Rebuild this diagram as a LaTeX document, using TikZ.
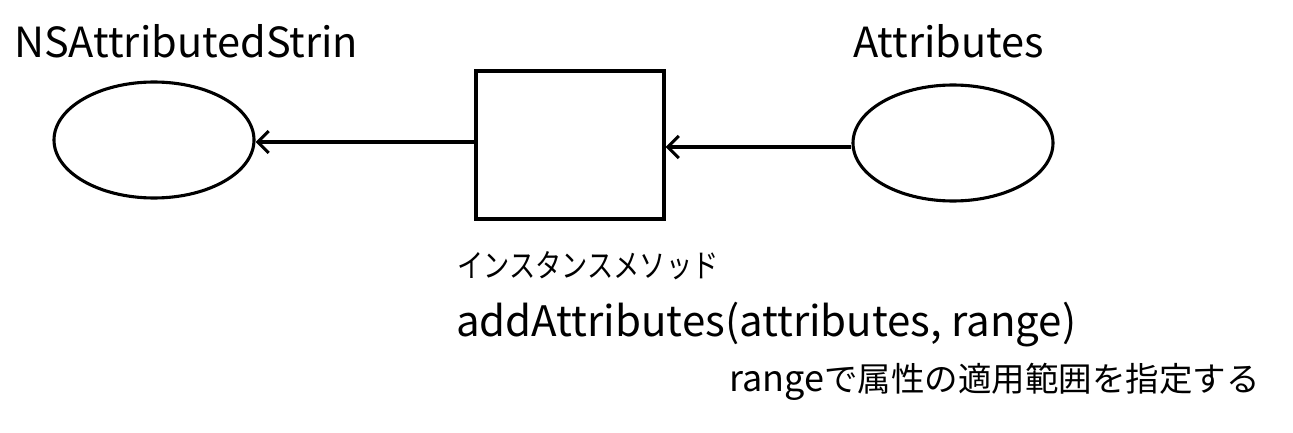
\documentclass[tikz,border=0pt]{standalone}
\usepackage{fontspec}
\setmainfont{Noto Sans CJK JP}
\usetikzlibrary{arrows.meta,shapes.geometric}
\begin{document}
\begin{tikzpicture}[x=1pt,y=-1pt,
  shp/.style={draw,line width=3.1pt},
  conn/.style={line width=3.1pt,-{Straight Barb[length=11pt,width=22pt,line width=3.1pt]}},
  lbl/.style={inner sep=0pt,anchor=base west}]
\useasboundingbox (0,0) rectangle (1293,433);
\node[shp,ellipse,minimum width=200pt,minimum height=116pt,inner sep=0pt] (ns) at (154,140) {};
\node[shp,ellipse,minimum width=200pt,minimum height=116pt,inner sep=0pt] (at) at (953,143) {};
\node[shp,rectangle,minimum width=188pt,minimum height=148pt,inner sep=0pt] (m) at (570,145) {};
\draw[conn] (m.west |- 0,142) -- (ns.east |- 0,142);
\draw[conn] (at.west |- 0,147) -- (m.east |- 0,147);
\node[lbl,font=\fontsize{41.5}{46}\selectfont] (t1) at (14,58) {NSAttributedStrin};
\node[lbl,font=\fontsize{41.5}{46}\selectfont] (t2) at (853,58) {Attributes};
\node[lbl,font=\fontsize{32}{36}\selectfont] (t3) at (457,277) {\scalebox{0.82}[1]{インスタンスメソッド}};
\node[lbl,font=\fontsize{42}{46}\selectfont] (t4) at (456,336) {addAttributes(attributes, range)};
\node[lbl] (t5) at (729,391) {\fontsize{36}{40}\selectfont range\fontsize{33.5}{38}\selectfont で属性の適用範囲を指定する};
\end{tikzpicture}
\end{document}
